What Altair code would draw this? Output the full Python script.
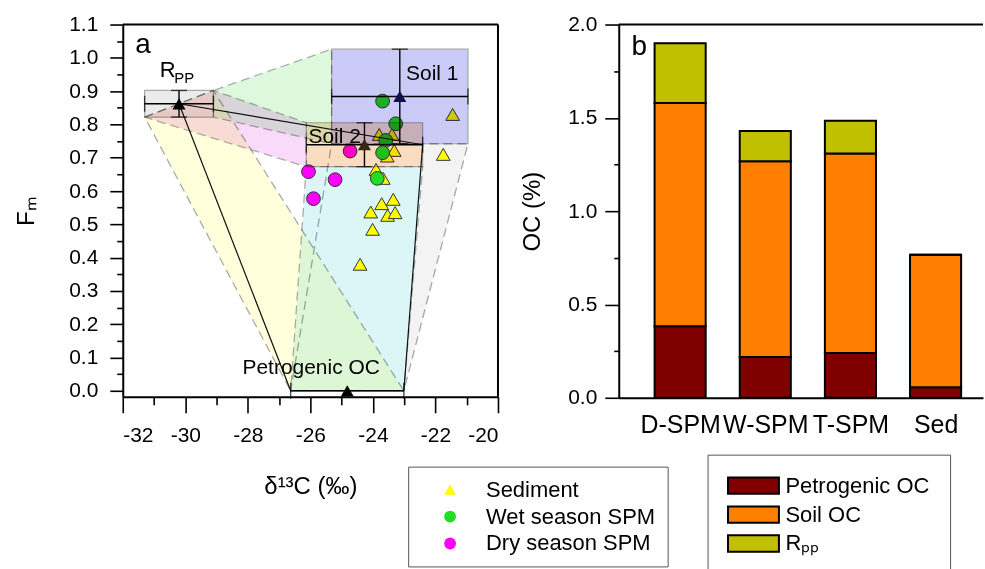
import json
import altair as alt
import numpy as np
import pandas as pd

FONT = "Liberation Sans"

# ---------------- panel a : end-members ----------------
src_names = ["Rpp", "Soil 1", "Soil 2", "Petrogenic OC"]
src_d13c = [-30.20, -23.14, -24.27, -24.82]
src_d13c_err = [1.10, 2.18, 1.86, 1.81]
src_fm = [0.862, 0.884, 0.739, 0.000]
src_fm_err = [0.040, 0.142, 0.066, 0.000]
src_marker = ["#000000", "#10104a", "#3d2410", "#000000"]
box_fill = {"Rpp": "#ebebeb", "Soil 1": "#cbcbf8", "Soil 2": "#fadcc0"}

# ---------------- panel a : samples ----------------
sed_d13c = [-21.45, -21.75, -23.80, -23.39, -23.32, -23.54, -23.90, -23.67,
            -23.72, -23.35, -24.07, -23.53, -23.29, -24.01, -24.41]
sed_fm = [0.830, 0.710, 0.770, 0.770, 0.722, 0.705, 0.665, 0.638,
          0.562, 0.575, 0.537, 0.527, 0.535, 0.485, 0.380]
wet_d13c = [-23.69, -23.27, -23.59, -23.69, -23.86]
wet_fm = [0.870, 0.802, 0.752, 0.715, 0.638]
dry_d13c = [-24.73, -26.06, -25.21, -25.90]
dry_fm = [0.720, 0.658, 0.634, 0.577]

groups = ["Sediment", "Wet season SPM", "Dry season SPM"]
group_fill = ["#ffff00", "#22dd22", "#ff00ff"]
group_shape = ["triangle-up", "circle", "circle"]

# mixing envelopes between end-member boxes (corner references); "" = outline only
envelopes = [
    ("Rpp-Petro", "#ffffdc", [("Rpp", "BL"), ("Rpp", "TR"), ("Petrogenic OC", "BR"), ("Petrogenic OC", "BL")]),
    ("Rpp-Soil2", "#f9dbf9", [("Rpp", "BL"), ("Rpp", "TR"), ("Soil 2", "TL"), ("Soil 2", "BL")]),
    ("Rpp-Soil1", "#def8de", [("Rpp", "BR"), ("Rpp", "TR"), ("Soil 1", "TL"), ("Soil 1", "BL")]),
    ("Soil2-Petro", "#dcf6f8", [("Soil 2", "BL"), ("Soil 2", "BR"), ("Petrogenic OC", "BR"), ("Petrogenic OC", "BL")]),
    ("Soil1-Petro", "", [("Soil 1", "BL"), ("Soil 1", "BR"), ("Petrogenic OC", "BR"), ("Petrogenic OC", "BL")]),
]
gray_fill = "#f3f3f3"

# annotations
ann_text = ["Soil 1", "Soil 2", "R", "PP", "Petrogenic OC", "a"]
ann_x = [-22.94, -26.06, -30.82, -30.35, -28.17, -31.60]
ann_y = [0.934, 0.744, 0.941, 0.924, 0.050, 1.014]
ann_size = [21, 21, 22, 15, 21, 28]

x_ticks_a = [-32, -31, -30, -29, -28, -27, -26, -25, -24, -23, -22, -21, -20]
y_ticks_a = [0.0, 0.05, 0.1, 0.15, 0.2, 0.25, 0.3, 0.35, 0.4, 0.45, 0.5, 0.55,
             0.6, 0.65, 0.7, 0.75, 0.8, 0.85, 0.9, 0.95, 1.0, 1.05, 1.1]

# ---------------- panel b ----------------
samples = ["D-SPM", "W-SPM", "T-SPM", "Sed"]
components = ["Petrogenic OC", "Soil OC", "Rₚₚ"]
comp_colors = ["#800000", "#ff8000", "#c0c000"]
petro_oc = [0.383, 0.219, 0.240, 0.057]
soil_oc = [1.197, 1.049, 1.069, 0.709]
rpp_oc = [0.320, 0.162, 0.175, 0.000]
y_ticks_b = [0.0, 0.25, 0.5, 0.75, 1.0, 1.25, 1.5, 1.75, 2.0]

# ================= build panel a =================
XS_A = alt.Scale(domain=[-32, -20], nice=False, zero=False)
YS_A = alt.Scale(domain=[-0.018, 1.1], nice=False, zero=False)
XAX_A = alt.Axis(
    title="δ¹³C (‰)", values=x_ticks_a, grid=False,
    labelExpr="datum.value % 2 != 0 ? '' : '' + datum.value",
    tickSize={"condition": {"test": "datum.value % 2 != 0", "value": 8}, "value": 16},
    labelPadding=12, titlePadding=29, labelFontSize=21, titleFontSize=24,
)
YAX_A = alt.Axis(
    title="Fₘ", values=y_ticks_a, grid=False,
    labelExpr="abs(datum.value*10 - round(datum.value*10)) > 0.01 ? '' : format(datum.value, '.1f')",
    tickSize={"condition": {"test": "abs(datum.value*10 - round(datum.value*10)) > 0.01", "value": 6}, "value": 13},
    labelPadding=12, titlePadding=30, labelFontSize=21, titleFontSize=24,
)


def xa(f):
    return alt.X(f, type="quantitative", scale=XS_A, axis=XAX_A)


def ya(f):
    return alt.Y(f, type="quantitative", scale=YS_A, axis=YAX_A)


src = pd.DataFrame({
    "name": src_names, "x": src_d13c, "sx": src_d13c_err, "y": src_fm, "sy": src_fm_err,
    "marker": src_marker,
})
src["xlo"] = src.x - src.sx
src["xhi"] = src.x + src.sx
src["ylo"] = src.y - src.sy
src["yhi"] = src.y + src.sy

corner = {}
for _, r in src.iterrows():
    corner[r["name"]] = {
        "BL": (r.xlo, r.ylo), "BR": (r.xhi, r.ylo),
        "TL": (r.xlo, r.yhi), "TR": (r.xhi, r.yhi),
    }


def poly_df(verts):
    verts = list(verts) + [verts[0]]
    return pd.DataFrame({"x": [v[0] for v in verts], "y": [v[1] for v in verts],
                         "i": list(range(len(verts)))})


layers_a = []
s1 = corner["Soil 1"]
s2c = corner["Soil 2"]
pc = corner["Petrogenic OC"]
gray_verts = [(s2c["BR"][0], s1["BR"][1]), s1["BR"], pc["BR"], s2c["BR"]]
layers_a.append(
    alt.Chart(poly_df(gray_verts)).mark_line(fill=gray_fill, strokeOpacity=0, blend="multiply")
    .encode(x=xa("x"), y=ya("y"), order=alt.Order("i:Q"))
)
for name, col, refs in envelopes:
    verts = [corner[s][c] for s, c in refs]
    kw = dict(stroke="#ababab", strokeWidth=1.3, strokeDash=[9, 5], blend="multiply")
    if col:
        kw["fill"] = col
    layers_a.append(
        alt.Chart(poly_df(verts)).mark_line(**kw)
        .encode(x=xa("x"), y=ya("y"), order=alt.Order("i:Q"))
    )

rows = []
for g, xs, ys in [(groups[0], sed_d13c, sed_fm), (groups[1], wet_d13c, wet_fm),
                  (groups[2], dry_d13c, dry_fm)]:
    for xv, yv in zip(xs, ys):
        rows.append({"d13c": xv, "fm": yv, "group": g})
pts = pd.DataFrame(rows)

legend_a = alt.Legend(
    title=None, orient="none", legendX=286, legendY=443, padding=12,
    strokeColor="#555555", fillColor="white", labelFont=FONT, labelFontSize=22,
    labelColor="black", symbolSize=140, symbolStrokeColor="#222222",
    symbolStrokeWidth=1.2, rowPadding=5, symbolOffset=19, labelOffset=25, labelLimit=400,
)
layers_a.append(
    alt.Chart(pts).mark_point(filled=True, size=190, opacity=1, strokeWidth=1)
    .encode(
        x=xa("d13c"), y=ya("fm"),
        fill=alt.Fill("group:N", scale=alt.Scale(domain=groups, range=group_fill), legend=legend_a),
        shape=alt.Shape("group:N", scale=alt.Scale(domain=groups, range=group_shape), legend=legend_a),
        stroke=alt.value("#333333"),
    )
)

boxes = src[src["name"].isin(list(box_fill.keys()))].copy()
boxes["fill"] = boxes["name"].map(box_fill)
layers_a.append(
    alt.Chart(boxes).mark_rect(blend="multiply", stroke="#a8a8a8", strokeWidth=1.2)
    .encode(x=xa("xlo"), x2="xhi", y=ya("ylo"), y2="yhi", fill=alt.Fill("fill:N", scale=None))
)

rpp = src.iloc[0]
s2 = src.iloc[2]
pet = src.iloc[3]
lines = pd.DataFrame({
    "x": [rpp.x, rpp.x, s2.xhi], "y": [rpp.y, rpp.y, s2.y],
    "x2": [s2.xhi, pet.xlo, pet.xhi], "y2": [s2.y, pet.y, pet.y],
})
layers_a.append(
    alt.Chart(lines).mark_rule(color="#111111", strokeWidth=1.2)
    .encode(x=xa("x"), y=ya("y"), x2="x2", y2="y2")
)

layers_a.append(
    alt.Chart(src).mark_errorbar(ticks={"size": 16, "thickness": 1.4}, rule={"strokeWidth": 1.4}, color="black")
    .encode(x=xa("xlo"), x2="xhi", y=ya("y"))
)
layers_a.append(
    alt.Chart(src[src.sy > 0]).mark_errorbar(ticks={"size": 16, "thickness": 1.4}, rule={"strokeWidth": 1.4}, color="black")
    .encode(y=ya("ylo"), y2="yhi", x=xa("x"))
)
layers_a.append(
    alt.Chart(src).mark_point(shape="triangle-up", filled=True, size=170, opacity=1)
    .encode(x=xa("x"), y=ya("y"), fill=alt.Fill("marker:N", scale=None))
)

ann = pd.DataFrame({"label": ann_text, "x": ann_x, "y": ann_y, "size": ann_size})
layers_a.append(
    alt.Chart(ann).mark_text(align="left", baseline="alphabetic", font=FONT, color="black")
    .encode(x=xa("x"), y=ya("y"), text="label:N", size=alt.Size("size:Q", scale=None))
)

layers_a.append(
    alt.Chart(pd.DataFrame({"y": [1.1]})).mark_rule(color="black", strokeWidth=2).encode(y=ya("y"))
)
layers_a.append(
    alt.Chart(pd.DataFrame({"x": [-20.0]})).mark_rule(color="black", strokeWidth=2).encode(x=xa("x"))
)

panel_a = alt.layer(*layers_a).properties(width=376, height=373)

# ================= build panel b =================
XS_B = alt.Scale(domain=[-0.721, 3.557], nice=False, zero=False)
YS_B = alt.Scale(domain=[0, 2.0], nice=False, zero=False)
XAX_B = alt.Axis(
    title=None, values=[0, 1, 2, 3], grid=False, ticks=False,
    labelExpr=json.dumps(samples) + "[datum.value]",
    labelPadding=15, labelFontSize=25,
)
YAX_B = alt.Axis(
    title="OC (%)", values=y_ticks_b, grid=False,
    labelExpr="abs(datum.value*2 - round(datum.value*2)) > 0.01 ? '' : format(datum.value, '.1f')",
    tickSize={"condition": {"test": "abs(datum.value*2 - round(datum.value*2)) > 0.01", "value": 5}, "value": 14},
    labelPadding=8, titlePadding=23, labelFontSize=21, titleFontSize=24,
)


def xb(f):
    return alt.X(f, type="quantitative", scale=XS_B, axis=XAX_B)


def yb(f):
    return alt.Y(f, type="quantitative", scale=YS_B, axis=YAX_B)


vals = np.array([petro_oc, soil_oc, rpp_oc])
cum = np.cumsum(vals, axis=0)
brow = []
for i, smp in enumerate(samples):
    for k, comp in enumerate(components):
        brow.append({
            "sample": smp, "component": comp, "ord": k,
            "lo": i - 0.3, "hi": i + 0.3,
            "y0": float(cum[k - 1, i]) if k > 0 else 0.0, "y1": float(cum[k, i]),
        })
bars_df = pd.DataFrame(brow)

legend_b = alt.Legend(
    title=None, orient="none", legendX=89, legendY=431, padding=20,
    strokeColor="#555555", fillColor="white", labelFont=FONT, labelFontSize=22,
    labelColor="black", symbolType="M-4,-1.28L4,-1.28L4,1.28L-4,1.28Z", symbolSize=162.6,
    symbolStrokeColor="black", symbolStrokeWidth=2, symbolOpacity=1, rowPadding=3,
    symbolOffset=15, labelOffset=21, labelLimit=400,
)
bars = alt.Chart(bars_df).mark_bar(stroke="black", strokeWidth=2).encode(
    x=xb("lo"), x2="hi", y=yb("y0"), y2="y1",
    fill=alt.Fill("component:N", scale=alt.Scale(domain=components, range=comp_colors), legend=legend_b),
)
top_rule = alt.Chart(pd.DataFrame({"y": [2.0]})).mark_rule(color="black", strokeWidth=2).encode(y=yb("y"))
btext = alt.Chart(pd.DataFrame({"label": ["b"], "x": [-0.572], "y": [1.838]})).mark_text(
    align="left", baseline="alphabetic", font=FONT, fontSize=28, color="black"
).encode(x=xb("x"), y=yb("y"), text="label:N")

panel_b = alt.layer(bars, top_rule, btext).properties(width=365, height=374)

chart = (
    alt.hconcat(panel_a, panel_b, spacing=121, bounds="flush")
    .resolve_scale(fill="independent", shape="independent")
    .resolve_legend(fill="independent", shape="independent")
    .properties(padding={"left": 14, "top": 12, "right": 0, "bottom": 0}, background="white")
    .configure_view(stroke="transparent")
    .configure_axis(
        labelFont=FONT, titleFont=FONT, labelColor="black", titleColor="black",
        titleFontWeight="normal", domainColor="black", domainWidth=2,
        tickColor="black", tickWidth=1.6, grid=False,
    )
)

chart.save("out.html", embed_options={"renderer": "svg", "actions": False})
